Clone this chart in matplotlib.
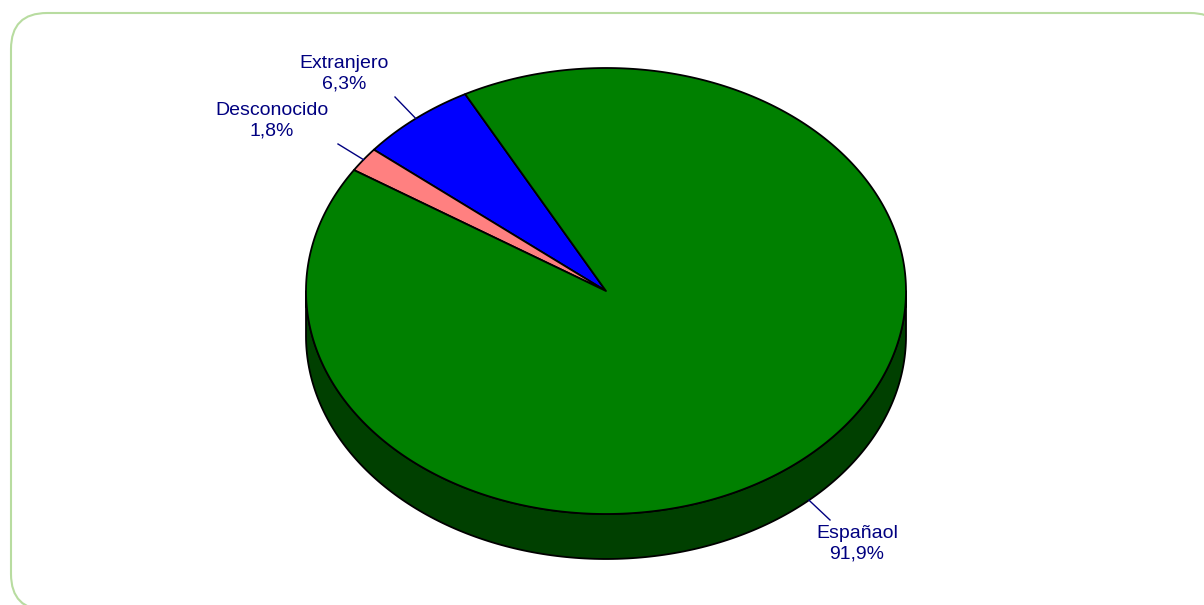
import numpy as np
import matplotlib
matplotlib.use("Agg")
import matplotlib.pyplot as plt
from matplotlib.patches import Polygon, FancyBboxPatch

# ---- data ----
categories = ["Españaol", "Extranjero", "Desconocido"]
values = [91.9, 6.3, 1.8]
labels_pct = ["91,9%", "6,3%", "1,8%"]
top_colors = ["#008000", "#0000ff", "#ff8080"]
side_colors = ["#004000", "#00007f", "#7f4040"]

# ---- layout ----
W, H = 1204, 605
cx, cy, rx, ry, depth = 606, 291, 300, 223, 45
start_angle = 118.0           # degrees, counter-clockwise
draw_order = [1, 2, 0]        # Extranjero, Desconocido, Español (ccw)
text_color = "#000080"

fig = plt.figure(figsize=(W / 100, H / 100), dpi=100)
ax = fig.add_axes([0, 0, 1, 1])
ax.set_xlim(0, W)
ax.set_ylim(H, 0)
ax.axis("off")

# frame with shadow
for i, a in enumerate([0.05, 0.05, 0.06, 0.07, 0.08]):
    off = 5 - i
    ax.add_patch(FancyBboxPatch((11 + off, 13 + off), 1215 - off, 600 - off,
                                boxstyle="round,pad=0,rounding_size=36",
                                fc="#808080", ec="none", alpha=a, zorder=0))
ax.add_patch(FancyBboxPatch((11, 13), 1215, 597,
                            boxstyle="round,pad=0,rounding_size=36",
                            fc="white", ec="#b8dca0", lw=1.5, zorder=1))

def pt(theta_deg, dy=0.0):
    t = np.radians(theta_deg)
    return cx + rx * np.cos(t), cy - ry * np.sin(t) + dy

# slice angle ranges
total = sum(values)
ranges = {}
a = start_angle
for idx in draw_order:
    span = values[idx] / total * 360.0
    ranges[idx] = (a, a + span)
    a += span

# side walls (front half: angles in (180, 360) mod 360)
for idx in draw_order:
    a0, a1 = ranges[idx]
    for k in range(-1, 3):
        lo, hi = 180 + 360 * k, 360 + 360 * k
        s, e = max(a0, lo), min(a1, hi)
        if e > s:
            th = np.linspace(s, e, 200)
            xt, yt = pt(th)
            xb, yb = pt(th[::-1], depth)
            poly = np.column_stack([np.concatenate([xt, xb]), np.concatenate([yt, yb])])
            ax.add_patch(Polygon(poly, closed=True, fc=side_colors[idx], ec="black",
                                 lw=1.3, zorder=2, joinstyle="round"))

# top faces
for idx in draw_order:
    a0, a1 = ranges[idx]
    th = np.linspace(a0, a1, 400)
    xs, ys = pt(th)
    poly = np.column_stack([np.concatenate([[cx], xs]), np.concatenate([[cy], ys])])
    ax.add_patch(Polygon(poly, closed=True, fc=top_colors[idx], ec="black",
                         lw=1.3, zorder=3, joinstyle="round"))

# labels with leader lines
label_pos = {0: (857, 544), 1: (344, 74), 2: (272, 121)}
line_end = {0: (830, 520), 1: (395, 97), 2: (338, 144)}
for idx in draw_order:
    a0, a1 = ranges[idx]
    mid = (a0 + a1) / 2
    front = np.sin(np.radians(mid)) < 0
    x0, y0 = pt(mid, depth if front else 0)
    x1, y1 = line_end[idx]
    ax.plot([x0, x1], [y0, y1], color=text_color, lw=1.0, zorder=4)
    tx, ty = label_pos[idx]
    ax.text(tx, ty, f"{categories[idx]}\n{labels_pct[idx]}", ha="center", va="center",
            multialignment="center", fontsize=14, color=text_color,
            family=["Liberation Sans", "DejaVu Sans"], linespacing=1.3, zorder=5)

fig.savefig("out.png", dpi=100)
